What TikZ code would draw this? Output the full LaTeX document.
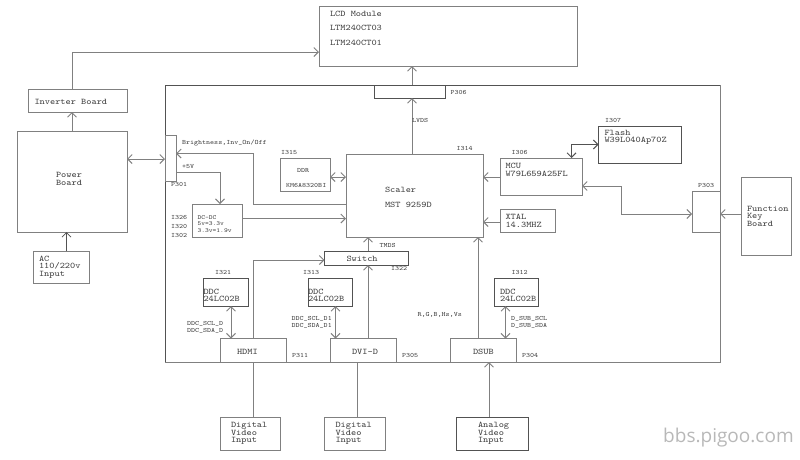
\documentclass[tikz,border=0pt]{standalone}
\usepackage{fontspec}
\newfontfamily\wmfont{Open Sans}
\newfontfamily\wideTT[FakeStretch=1.15]{Latin Modern Mono}
\usetikzlibrary{arrows.meta,calc}
\definecolor{linegray}{gray}{0.5}
\definecolor{darkline}{gray}{0.32}
\definecolor{txtgray}{gray}{0.25}
\tikzset{
  x=1pt,y=-1pt,
  boxed/.style={draw=linegray,line width=1pt,inner sep=0pt,outer sep=0pt},
  darkbox/.style={boxed,draw=darkline,line width=0.8pt},
  lbl/.style={anchor=west,inner sep=0pt,outer sep=0pt,text=txtgray,font=\wideTT\fontsize{8.6}{7.5}\selectfont,align=left},
  mid/.style={lbl,font=\wideTT\fontsize{6.2}{6.9}\selectfont},
  tiny/.style={lbl,font=\wideTT\fontsize{6.6}{8}\selectfont},
  conn/.style={draw=linegray,line width=1pt},
  darkconn/.style={draw=darkline,line width=0.8pt},
  arr/.style={conn,-{Straight Barb[length=4.5pt,width=9pt]}},
  darr/.style={conn,{Straight Barb[length=4.5pt,width=9pt]}-{Straight Barb[length=4.5pt,width=9pt]}},
}
% name, x1, y1, x2, y2, style
\newcommand{\bx}[6]{%
  \pgfmathsetmacro{\bw}{#4-#2}\pgfmathsetmacro{\bh}{#5-#3}%
  \pgfmathsetmacro{\cxx}{(#2+#4)/2}\pgfmathsetmacro{\cyy}{(#3+#5)/2}%
  \node[#6,minimum width=\bw pt,minimum height=\bh pt] (#1) at (\cxx,\cyy) {};}
\begin{document}
\begin{tikzpicture}
\useasboundingbox (0,0) rectangle (800,459);
% boxes
\bx{main}{165}{85}{720}{362}{darkbox}
\bx{lcd}{319}{6}{577}{66}{boxed}
\bx{inv}{28}{89}{127}{112}{boxed}
\bx{power}{17}{131}{127}{232}{boxed}
\bx{ac}{33.5}{251}{89}{283}{boxed}
\bx{p306}{374}{85}{445.5}{98}{darkbox}
\bx{p301}{165}{135}{176}{181}{boxed}
\bx{dcdc}{192}{204}{242}{237}{boxed}
\bx{ddr}{280}{158}{330}{191}{boxed}
\bx{scaler}{346}{154}{483}{237}{boxed}
\bx{mcu}{500}{158}{582}{195}{boxed}
\bx{xtal}{500}{209}{555}{232}{boxed}
\bx{flash}{598.5}{126}{681}{163}{darkbox}
\bx{p303}{692}{191}{720}{232}{boxed}
\bx{func}{741.5}{177}{791}{255}{boxed}
\bx{switch}{324.5}{251}{408}{265}{darkbox}
\bx{ddca}{203.5}{278}{248}{306}{darkbox}
\bx{ddcb}{308}{278}{352}{306}{darkbox}
\bx{ddcc}{494.5}{278}{538.5}{306}{darkbox}
\bx{hdmi}{220}{338.5}{286}{362}{boxed}
\bx{dvi}{330}{338.5}{396.5}{362}{boxed}
\bx{dsub}{450.5}{338.5}{516.5}{362}{boxed}
\bx{ina}{220}{417}{280.5}{450}{boxed}
\bx{inb}{324.5}{417}{385}{450}{boxed}
\bx{inc}{456}{417}{528}{450}{darkbox}
% the main frame's lighter right and bottom edges
\draw[conn] (main.north east) -- (main.south east) -- (main.south west);
% connectors
\draw[arr] (72,0 |- inv.north) -- (72,52) -- (lcd.west |- 0,52);
\draw[arr] (72,0 |- power.north) -- (72,0 |- inv.south);
\draw[darkconn,-{Straight Barb[length=4.5pt,width=9pt]}] (66.5,0 |- ac.north) -- (66.5,0 |- power.south);
\draw[darr] (power.east |- 0,159) -- (p301.west |- 0,159);
\draw[arr] (scaler.west |- 0,204.5) -- (253,204.5) -- (253,153.5) -- (p301.east |- 0,153.5);
\draw[arr] (p301.east |- 0,172) -- (220,172) -- (220,0 |- dcdc.north);
\draw[arr] (dcdc.east |- 0,218.5) -- (scaler.west |- 0,218.5);
\draw[darr] (ddr.east |- 0,177) -- (scaler.west |- 0,177);
\draw[arr] (412,0 |- scaler.north) -- (412,0 |- p306.south);
\draw[arr] (412,0 |- p306.north) -- (412,0 |- lcd.south);
\draw[arr] (mcu.west |- 0,177) -- (scaler.east |- 0,177);
\draw[arr] (xtal.west |- 0,222) -- (scaler.east |- 0,222);
\draw[darr,draw=darkline] (571.5,0 |- mcu.north) -- (571.5,144.5) -- (flash.west |- 0,144.5);
\draw[darr] (mcu.east |- 0,186) -- (621,186) -- (621,214) -- (p303.west |- 0,214);
\draw[arr] (func.west |- 0,214) -- (p303.east |- 0,214);
\draw[arr] (368,0 |- switch.north) -- (368,0 |- scaler.south);
\draw[arr] (368,0 |- dvi.north) -- (368,0 |- switch.south);
\draw[arr] (253,0 |- hdmi.north) -- (253,260) -- (switch.west |- 0,260);
\draw[arr] (478,0 |- dsub.north) -- (478,0 |- scaler.south);
\draw[darr] (231,0 |- ddca.south) -- (231,0 |- hdmi.north);
\draw[darr] (335.5,0 |- ddcb.south) -- (335.5,0 |- dvi.north);
\draw[darr] (505.5,0 |- ddcc.south) -- (505.5,0 |- dsub.north);
\draw[conn] (253,0 |- hdmi.south) -- (253,0 |- ina.north);
\draw[conn] (357.5,0 |- dvi.south) -- (357.5,0 |- inb.north);
\draw[arr] (489,0 |- inc.north) -- (489,0 |- dsub.south);
% box texts
\node[lbl] (t1) at (330,14) {LCD Module};
\node[lbl] (t2) at (330,28) {LTM240CT03};
\node[lbl] (t3) at (330,42.5) {LTM240CT01};
\node[lbl] (t4) at (34.5,102) {Inverter Board};
\node[lbl,align=center,anchor=center] (t5) at (69,179) {Power\\Board};
\node[lbl] (t6) at (39,267) {AC\\110/220v\\Input};
\node[mid] (t7) at (197.5,224) {DC-DC\\5v=3.3v\\3.3v=1.9v};
\node[tiny] (t8) at (297,170.5) {DDR};
\node[tiny] (t9) at (286,185) {KM6A8320BI};
\node[lbl] (t10) at (385,189.5) {Scaler};
\node[lbl] (t11) at (385,204.5) {MST 9259D};
\node[lbl] (t12) at (505.5,170) {MCU\\W79L659A25FL};
\node[lbl] (t13) at (505.5,221) {XTAL\\14.3MHZ};
\node[lbl] (t14) at (604.5,137.5) {Flash\\W39L040Ap70Z};
\node[lbl] (t15) at (747,216) {Function\\Key\\Board};
\node[lbl] (t16) at (346.5,259) {Switch};
\node[lbl] (t17) at (203.5,295.5) {DDC\\24LC02B};
\node[lbl] (t18) at (308,295.5) {DDC\\24LC02B};
\node[lbl] (t19) at (500,295.5) {DDC\\24LC02B};
\node[lbl] (t20) at (237,352) {HDMI};
\node[lbl] (t21) at (352,352) {DVI-D};
\node[lbl] (t22) at (473,352) {DSUB};
\node[lbl] (t23) at (231,433.5) {Digital\\Video\\Input};
\node[lbl] (t24) at (335.5,433.5) {Digital\\Video\\Input};
\node[lbl] (t25) at (478,433.5) {Analog\\Video\\Input};
% signal and reference labels
\node[tiny] (r1) at (182,143) {Brightness,Inv\_On/Off};
\node[tiny] (r2) at (182,166.5) {+5V};
\node[tiny] (r3) at (171,184.5) {P301};
\node[tiny] (r4) at (281,152) {I315};
\node[tiny] (r5) at (171,217) {I326};
\node[tiny] (r6) at (171,226.5) {I320};
\node[tiny] (r7) at (171,235.5) {I302};
\node[tiny] (r8) at (450.5,92) {P306};
\node[tiny] (r9) at (412,120) {LVDS};
\node[tiny] (r10) at (456.5,148) {I314};
\node[tiny] (r11) at (511.5,152) {I306};
\node[tiny] (r12) at (605,120) {I307};
\node[tiny] (r13) at (698,185) {P303};
\node[tiny] (r14) at (379.5,245) {TMDS};
\node[tiny] (r15) at (391,268) {I322};
\node[tiny] (r16) at (215,272) {I321};
\node[tiny] (r17) at (303,272) {I313};
\node[tiny] (r18) at (511.5,272) {I312};
\node[tiny] (r19) at (187,323.5) {DDC\_SCL\_D};
\node[tiny] (r20) at (187,330.5) {DDC\_SDA\_D};
\node[tiny] (r21) at (291.5,318.5) {DDC\_SCL\_D1};
\node[tiny] (r22) at (291.5,325.5) {DDC\_SDA\_D1};
\node[tiny] (r23) at (511,318.5) {D\_SUB\_SCL};
\node[tiny] (r24) at (511,325.5) {D\_SUB\_SDA};
\node[tiny] (r25) at (292,355.5) {P311};
\node[tiny] (r26) at (402,355.5) {P305};
\node[tiny] (r27) at (522,355.5) {P304};
\node[tiny] (r28) at (417.5,314.5) {R,G,B,Hs,Vs};
\node[anchor=west,inner sep=0pt,text=black!28,font=\wmfont\fontsize{19}{19}\selectfont] (wm) at (663,438) {bbs.pigoo.com};
\end{tikzpicture}
\end{document}
